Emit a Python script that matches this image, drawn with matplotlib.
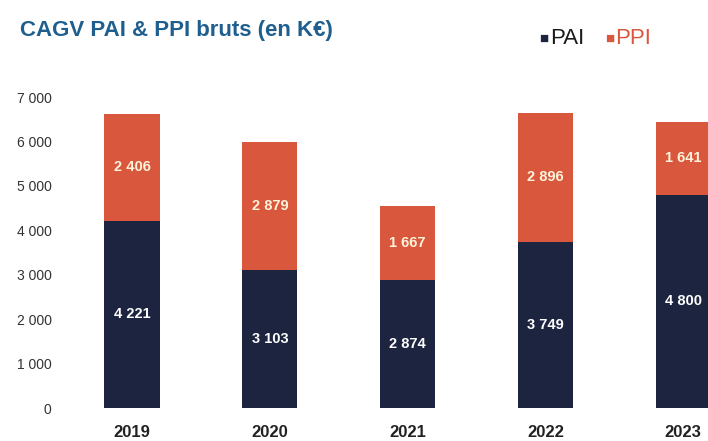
import matplotlib.pyplot as plt
import numpy as np

years = ['2019', '2020', '2021', '2022', '2023']
pai = [4221, 3103, 2874, 3749, 4800]
ppi = [2406, 2879, 1667, 2896, 1641]
yticks = [0, 1000, 2000, 3000, 4000, 5000, 6000, 7000]

PAI_COLOR = '#1d2440'
PPI_COLOR = '#d9573c'
TITLE_COLOR = '#1f5f8f'

plt.rcParams['font.family'] = ['Liberation Sans Narrow', 'Liberation Sans', 'DejaVu Sans']


def fmt(v):
    return f"{v:,}".replace(',', ' ')


fig = plt.figure(figsize=(7.08, 4.41), dpi=100)
ax = fig.add_axes([0.0847, 0.0748, 0.9153, 0.705])

x = np.arange(len(years))
w = 0.40
ax.bar(x, pai, width=w, color=PAI_COLOR)
ax.bar(x, ppi, width=w, bottom=pai, color=PPI_COLOR)

for i in range(len(years)):
    ax.text(x[i], pai[i] / 2, fmt(pai[i]), ha='center', va='center',
            color='white', fontsize=10.5, fontweight='bold')
    ax.text(x[i], pai[i] + ppi[i] / 2, fmt(ppi[i]), ha='center', va='center',
            color='#fff3dc', fontsize=10.5, fontweight='bold')

ax.set_ylim(0, 7000)
ax.set_xlim(-0.523, 4.18)
ax.set_yticks(yticks)
ax.set_yticklabels([fmt(v) for v in yticks], fontsize=10, color='#333333')
ax.set_xticks(x)
ax.set_xticklabels(years, fontsize=12, fontweight='bold', color='#222222')
ax.tick_params(axis='both', length=0)
ax.tick_params(axis='y', pad=6)
ax.tick_params(axis='x', pad=12)
for s in ax.spines.values():
    s.set_visible(False)

fig.text(0.028, 0.93, 'CAGV PAI & PPI bruts (en K€)', fontsize=16,
         fontweight='bold', color=TITLE_COLOR, va='center')

fig.text(0.762, 0.912, '■', fontsize=11, color=PAI_COLOR, va='center')
fig.text(0.777, 0.912, 'PAI', fontsize=16, color='#1a1a1a', va='center')
fig.text(0.854, 0.912, '■', fontsize=11, color=PPI_COLOR, va='center')
fig.text(0.869, 0.912, 'PPI', fontsize=16, color=PPI_COLOR, va='center')

fig.savefig('out.png', dpi=100)
